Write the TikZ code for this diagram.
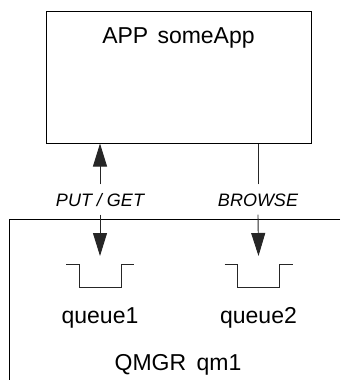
\documentclass[tikz,border=0pt]{standalone}
\usepackage{fontspec}
\setmainfont{Liberation Sans}
\usetikzlibrary{arrows.meta}
\begin{document}
\begin{tikzpicture}[x=1pt, y=-1pt,
  frame/.style={draw=black, line width=1pt},
  thin/.style={draw=black!85, line width=0.9pt},
  arr/.style={thin, -{Triangle[length=23pt,width=14pt]}},
  bigtext/.style={font=\fontsize{23}{27}\selectfont, inner sep=0pt},
  oplabel/.style={font=\fontsize{18}{21}\selectfont\itshape, text height=13pt,
    text depth=0pt, inner xsep=2pt, inner ysep=8.5pt},
  qshape/.style={thin}
]
\useasboundingbox (0,0) rectangle (340,380);

% application box and its title
\node[frame, minimum width=265pt, minimum height=132pt, inner sep=0pt] (app) at (178.5,77) {};
\node[bigtext, anchor=base] (apptitle) at (178.5,43) {APP\hspace{0.4em}someApp};

% queue manager frame (open to the right and bottom)
\coordinate (qmgr) at (9,219);
\draw[frame] (qmgr) ++(331,0) -- (qmgr) -- ++(0,161);
\node[bigtext, anchor=base] (qmgrtitle) at (178,370) {QMGR\hspace{0.45em}qm1};

% operation labels
\node[oplabel, anchor=base] (put) at (100,206) {PUT / GET};
\node[oplabel, anchor=base] (browse) at (258,206) {BROWSE};

% queues: arrow tip points, queue cups drawn just below
\coordinate (q1) at (100,256);
\coordinate (q2) at (258.5,256);
\draw[qshape] (q1) ++(-34,8) -- ++(13,0) -- ++(0,23) -- ++(42,0) -- ++(0,-23) -- ++(13,0);
\draw[qshape] (q2) ++(-34,8) -- ++(13,0) -- ++(0,23) -- ++(42,0) -- ++(0,-23) -- ++(13,0);
\node[bigtext, anchor=base] (q1label) at (100,323) {queue1};
\node[bigtext, anchor=base] (q2label) at (258.5,323) {queue2};

% connectors
\draw[arr] (put.north) -- (put.north |- app.south);
\draw[arr] (put.south) -- (q1);
\draw[thin] (browse.north) -- (browse.north |- app.south);
\draw[arr] (browse.south) -- (q2);
\end{tikzpicture}
\end{document}
